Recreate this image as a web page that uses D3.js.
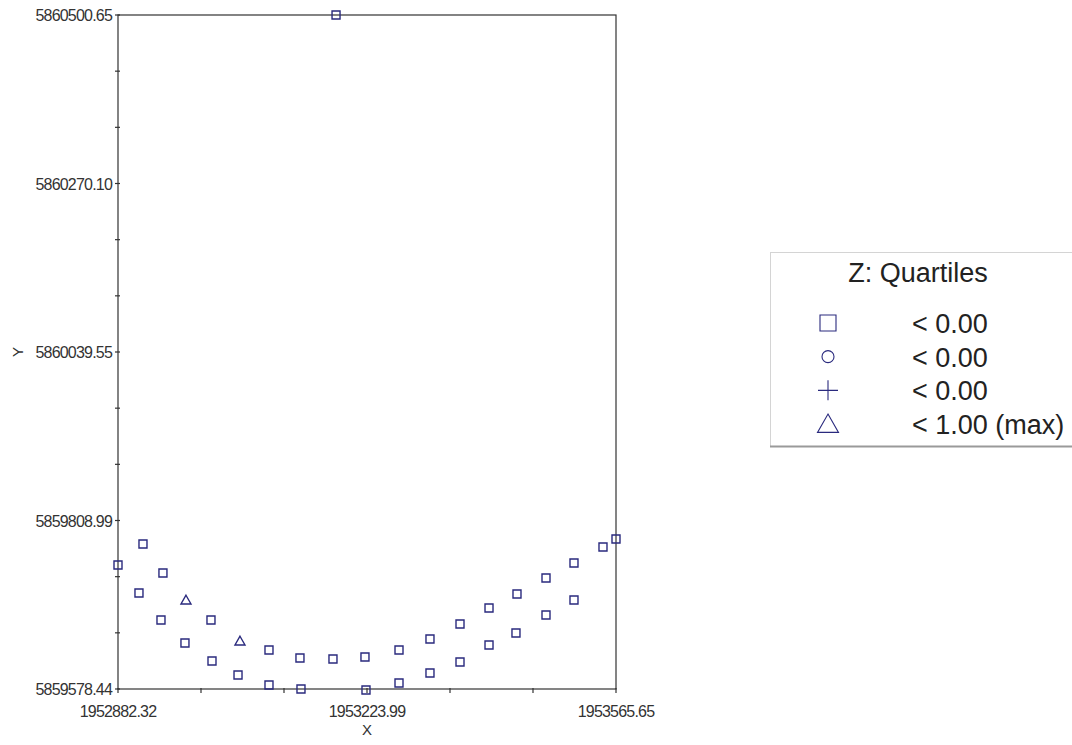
<!DOCTYPE html>
<html>
<head>
<meta charset="utf-8">
<script src="https://cdn.jsdelivr.net/npm/d3@7"></script>
<style>
  body { margin: 0; background: #fff; }
  text { font-family: "Liberation Sans", Arial, sans-serif; }
</style>
</head>
<body>
<svg id="chart" width="1072" height="745"></svg>
<script>
// point coordinates
const xs = [1952882.32, 1952916.6, 1952944.0, 1952911.1, 1952975.6, 1953009.9, 1952941.3, 1952974.2,
    1953011.3, 1953049.7, 1953047.0, 1953089.5, 1953089.5, 1953132.0, 1953133.4, 1953177.3,
    1953221.2, 1953222.6, 1953267.9, 1953267.9, 1953310.4, 1953310.4, 1953351.6, 1953351.6,
    1953391.4, 1953391.4, 1953429.8, 1953428.4, 1953469.6, 1953469.6, 1953508.0, 1953508.0,
    1953547.8, 1953565.65, 1953181.5];
const ys = [5859748.1, 5859776.8, 5859737.2, 5859709.8, 5859700.2, 5859672.9, 5859672.9, 5859641.4,
    5859616.7, 5859644.1, 5859597.6, 5859631.8, 5859583.9, 5859620.9, 5859578.44, 5859619.5,
    5859622.2, 5859577.1, 5859631.8, 5859586.6, 5859646.8, 5859600.3, 5859667.4, 5859615.4,
    5859689.3, 5859638.6, 5859708.4, 5859655.1, 5859730.3, 5859679.7, 5859750.8, 5859700.2,
    5859772.7, 5859783.7, 5860500.65];
// quartile class of each point (0 square, 1 circle, 2 plus, 3 triangle)
const zClass = [0, 0, 0, 0, 3, 0, 0, 0, 0, 3, 0, 0, 0, 0, 0, 0, 0, 0, 0, 0, 0, 0, 0, 0,
    0, 0, 0, 0, 0, 0, 0, 0, 0, 0, 0];

const xDomain = [1952882.32, 1953565.65];
const yDomain = [5859578.44, 5860500.65];
const xTickLabels = ["1952882.32", "1953223.99", "1953565.65"];
const yTickLabels = ["5859578.44", "5859808.99", "5860039.55", "5860270.10", "5860500.65"];
const legendTitle = "Z: Quartiles";
const legendLabels = ["< 0.00", "< 0.00", "< 0.00", "< 1.00 (max)"];

const ink = "#2a2a7e", axisClr = "#333";
const m = { left: 118, right: 616, top: 15, bottom: 689 };

const svg = d3.select("#chart");
const x = d3.scaleLinear().domain(xDomain).range([m.left, m.right]);
const y = d3.scaleLinear().domain(yDomain).range([m.bottom, m.top]);

// 6 x intervals, 12 y intervals, label every third tick
const xTicks = d3.range(7).map(i => xDomain[0] + (xDomain[1] - xDomain[0]) * i / 6);
const yTicks = d3.range(13).map(i => yDomain[0] + (yDomain[1] - yDomain[0]) * i / 12);

const g = svg.append("g");
g.append("rect").attr("x", m.left).attr("y", m.top)
    .attr("width", m.right - m.left).attr("height", m.bottom - m.top)
    .attr("fill", "none").attr("stroke", axisClr).attr("stroke-width", 1.2);

g.selectAll(".xt").data(xTicks).join("line")
    .attr("x1", d => x(d)).attr("x2", d => x(d))
    .attr("y1", m.bottom - 1).attr("y2", m.bottom + 4)
    .attr("stroke", axisClr).attr("stroke-width", 1.2);
g.selectAll(".yt").data(yTicks).join("line")
    .attr("x1", m.left - 3).attr("x2", m.left + 2)
    .attr("y1", d => y(d)).attr("y2", d => y(d))
    .attr("stroke", axisClr).attr("stroke-width", 1.2);

const tickFont = { size: "16px", spacing: "-0.8px", fill: "#333" };
g.selectAll(".xl").data(xTicks.filter((d, i) => i % 3 === 0)).join("text")
    .attr("x", d => x(d)).attr("y", 717)
    .attr("text-anchor", "middle").attr("font-size", tickFont.size)
    .attr("letter-spacing", tickFont.spacing).attr("fill", tickFont.fill)
    .text((d, i) => xTickLabels[i]);
g.selectAll(".yl").data(yTicks.filter((d, i) => i % 3 === 0)).join("text")
    .attr("x", m.left - 6).attr("y", d => y(d) + 6)
    .attr("text-anchor", "end").attr("font-size", tickFont.size)
    .attr("letter-spacing", tickFont.spacing).attr("fill", tickFont.fill)
    .text((d, i) => yTickLabels[i]);

g.append("text").attr("x", x((xDomain[0] + xDomain[1]) / 2)).attr("y", 735)
    .attr("text-anchor", "middle").attr("font-size", "15px").attr("fill", "#333").text("X");
g.append("text").attr("transform", `translate(23,${y((yDomain[0] + yDomain[1]) / 2)}) rotate(-90)`)
    .attr("text-anchor", "middle").attr("font-size", "15px").attr("fill", "#333").text("Y");

// marker shapes by class, sized in pixels
function shape(c, s) {
    const h = s / 2;
    if (c === 0) return `M${-h},${-h}h${s}v${s}h${-s}Z`;
    if (c === 1) return d3.arc()({ innerRadius: 0, outerRadius: h, startAngle: 0, endAngle: 2 * Math.PI });
    if (c === 2) return `M${-h},0H${h}M0,${-h}V${h}`;
    return `M0,${-h * 0.95}L${h},${h * 0.8}L${-h},${h * 0.8}Z`;
}

const pts = d3.range(xs.length).map(i => ({ x: xs[i], y: ys[i], c: zClass[i] }));
g.selectAll(".pt").data(pts).join("path")
    .attr("transform", d => `translate(${x(d.x)},${y(d.y)})`)
    .attr("d", d => shape(d.c, d.c === 3 ? 10 : 8))
    .attr("fill", "none").attr("stroke", ink).attr("stroke-width", 1.4);

// legend
const lg = svg.append("g");
lg.append("rect").attr("x", 770.5).attr("y", 252.5).attr("width", 340).attr("height", 194)
    .attr("fill", "#fff").attr("stroke", "#d4d4d4");
lg.append("line").attr("x1", 770).attr("x2", 1072).attr("y1", 446.5).attr("y2", 446.5)
    .attr("stroke", "#9a9a9a").attr("stroke-width", 2);
lg.append("text").attr("x", 918).attr("y", 282).attr("text-anchor", "middle")
    .attr("font-size", "27px").attr("fill", "#222").text(legendTitle);
const rowY = d3.scaleLinear().domain([0, 3]).range([323, 424]);
const legendSizes = [16, 12, 20, 21];
lg.selectAll(".ls").data(legendLabels).join("path")
    .attr("transform", (d, i) => `translate(828,${rowY(i)})`)
    .attr("d", (d, i) => shape(i, legendSizes[i]))
    .attr("fill", "none").attr("stroke", ink).attr("stroke-width", 1.1);
lg.selectAll(".lt").data(legendLabels).join("text")
    .attr("x", 912).attr("y", (d, i) => rowY(i) + 10)
    .attr("font-size", "27px").attr("fill", "#222").text(d => d);
</script>
</body>
</html>
